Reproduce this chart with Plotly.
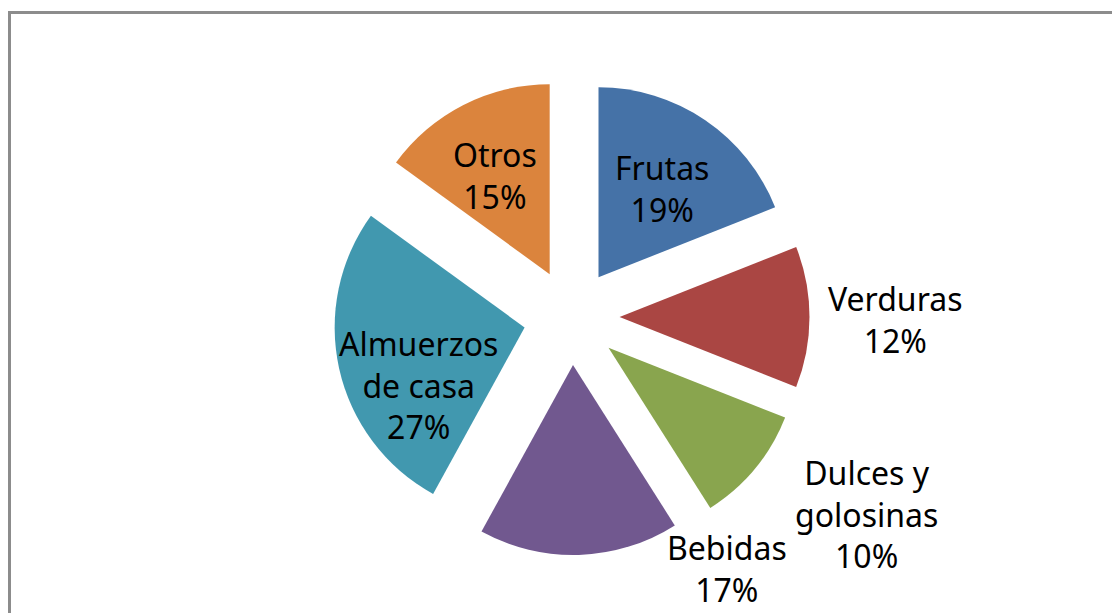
import plotly.graph_objects as go

categories = ["Frutas", "Verduras", "Dulces y golosinas", "Bebidas", "Almuerzos de casa", "Otros"]
label_lines = ["Frutas", "Verduras", "Dulces y<br>golosinas", "Bebidas", "Almuerzos<br>de casa", "Otros"]
values = [19, 12, 10, 17, 27, 15]
colors = ["#4572A7", "#AA4643", "#89A54E", "#71588F", "#4198AF", "#DB843D"]

W, H = 1120, 613
OFF = 8  # page body margin of the html page
total = sum(values)
percents = [round(100 * v / total) for v in values]

# pie centre and box size in screen pixels
cx, cy, half = 571.5 - OFF, 317 - OFF, 238
fig = go.Figure(go.Pie(
    labels=categories,
    values=values,
    sort=False,
    direction="clockwise",
    rotation=0,
    pull=[0.253] * len(values),
    marker=dict(colors=colors, line=dict(width=0)),
    textinfo="none",
    hoverinfo="label+percent",
    showlegend=False,
    domain=dict(x=[(cx - half) / W, (cx + half) / W],
                y=[1 - (cy + half) / H, 1 - (cy - half) / H]),
))

# label placement (screen pixel centres)
label_pos = [(662, 188), (895, 319), (866, 514), (727, 568), (419, 385), (495, 175)]
annotations = []
for txt, p, (px, py) in zip(label_lines, percents, label_pos):
    annotations.append(dict(
        x=(px - OFF) / W, y=1 - (py - OFF) / H, xref="paper", yref="paper",
        text=f"{txt}<br>{p}%", showarrow=False,
        font=dict(family="Noto Sans", size=32, color="#000000"),
        xanchor="center", yanchor="middle", align="center",
    ))

fig.update_layout(
    width=W, height=H,
    margin=dict(l=0, r=0, t=0, b=0),
    paper_bgcolor="white", plot_bgcolor="white",
    annotations=annotations,
    shapes=[dict(type="rect", xref="paper", yref="paper",
                 x0=(9.5 - OFF) / W, x1=1.2, y0=-0.2, y1=1 - (12.5 - OFF) / H,
                 line=dict(color="#8C8C8C", width=3), fillcolor="rgba(0,0,0,0)")],
)

fig.write_html("out.html")
